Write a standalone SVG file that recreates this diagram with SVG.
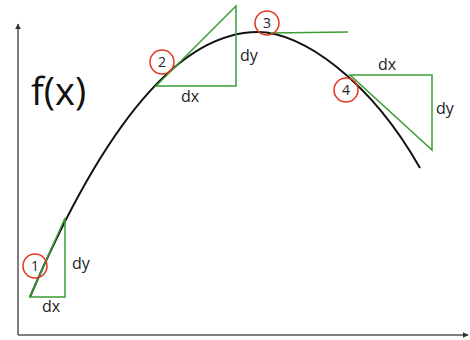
<svg xmlns="http://www.w3.org/2000/svg" width="470" height="340" viewBox="0 0 470 340">
<defs>
<marker id="arr" viewBox="0 0 10 10" refX="9" refY="5" markerWidth="6" markerHeight="6" orient="auto" markerUnits="userSpaceOnUse"><path d="M0,0 L10,5 L0,10 z" fill="#333"/></marker>
<style>
.ax{stroke:#555;stroke-width:1.5;fill:none}
.tri{stroke:#3a9e35;stroke-width:1.5;fill:none}
.crc{stroke:#e2341d;stroke-width:1.5;fill:none}
.lbl{font-family:"Open Sans","Noto Sans",sans-serif;font-size:16px;fill:#222}
.num{font-family:"Open Sans","Noto Sans",sans-serif;font-size:14px;fill:#222;text-anchor:middle}
</style>
</defs>
<rect width="470" height="340" fill="#fff"/>
<g id="axes">
<line class="ax" x1="18" y1="335" x2="18" y2="24" marker-end="url(#arr)"/>
<line class="ax" x1="18" y1="335" x2="468" y2="335" marker-end="url(#arr)"/>
</g>
<text x="31" y="105" font-family="'Open Sans','Noto Sans',sans-serif" font-size="38" fill="#111">f(x)</text>
<path id="curve" d="M30,297 C80,180 160,32 258,32 C302,32 370,80 420,168" stroke="#111" stroke-width="2" fill="none"/>
<g id="t1"><path class="tri" d="M30,297 L65,218 L65,297 Z"/>
<circle class="crc" cx="35" cy="266" r="12"/><text class="num" x="35" y="271" font-size="11">1</text>
<text class="lbl" x="72" y="269">dy</text><text class="lbl" x="42" y="312">dx</text></g>
<g id="t2"><path class="tri" d="M156,86 L236,6 L236,86 Z"/>
<circle class="crc" cx="162" cy="62" r="12"/><text class="num" x="162" y="67">2</text>
<text class="lbl" x="240" y="61">dy</text><text class="lbl" x="181" y="102">dx</text></g>
<g id="t3"><line class="tri" x1="270" y1="33" x2="348" y2="32"/>
<circle class="crc" cx="267" cy="23" r="12"/><text class="num" x="267" y="28">3</text></g>
<g id="t4"><path class="tri" d="M350,75 L432,75 L432,150 Z"/>
<circle class="crc" cx="346" cy="90" r="12"/><text class="num" x="346" y="95">4</text>
<text class="lbl" x="378" y="70">dx</text><text class="lbl" x="436" y="114">dy</text></g>
</svg>
